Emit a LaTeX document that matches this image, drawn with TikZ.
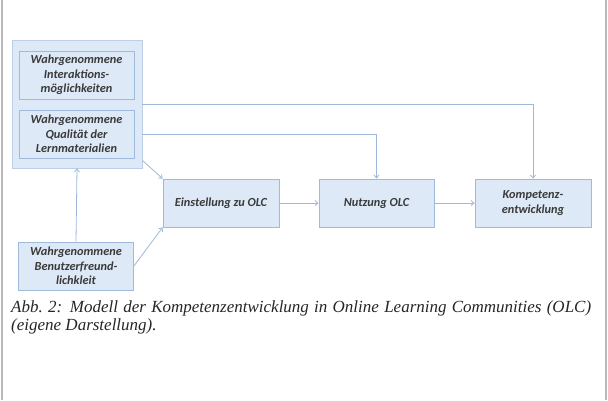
\documentclass[tikz,border=0pt]{standalone}
\usepackage{fontspec}
\newfontfamily\boxfont{Carlito}
\newfontfamily\capfont{Liberation Serif}
\usetikzlibrary{arrows.meta}
\definecolor{boxfill}{HTML}{DDE9F6}
\definecolor{boxline}{HTML}{9FBADA}
\definecolor{arrline}{HTML}{9DB8D9}
\definecolor{boxtext}{HTML}{3A3A3A}
\tikzset{
  olcbox/.style={draw=boxline, fill=boxfill, line width=0.8pt, minimum width=115pt,
    minimum height=48pt, inner sep=0pt, align=center, text=boxtext,
    font=\boxfont\bfseries\itshape\fontsize{12.3pt}{14.3pt}\selectfont},
  arr/.style={draw=arrline, line width=0.8pt, -{Straight Barb[length=3pt,width=5pt]}}
}

\begin{document}
\begin{tikzpicture}[x=1pt, y=-1pt]
    \useasboundingbox (0,0) rectangle (608,400);
    % side rules of the page
    \draw[gray!55, line width=1.2pt] (2,0) -- (2,400);
    \draw[gray!55, line width=1.2pt] (606,0) -- (606,400);
    % group of the two perceived qualities
    \node[olcbox, draw=boxline!70, minimum width=130pt, minimum height=128pt] (grp) at (77,104) {};
    \node[olcbox] (inter) at (76.5,75) {Wahrgenommene\\Interaktions-\\möglichkeiten};
    \node[olcbox] (qual) at (76.5,134) {Wahrgenommene\\Qualität der\\Lernmaterialien};
    \node[olcbox] (benutz) at (76,266) {Wahrgenommene\\Benutzerfreund-\\lichkleit};
    \node[olcbox, minimum width=116pt] (einst) at (221,203) {Einstellung zu OLC};
    \node[olcbox] (nutz) at (376.5,203) {Nutzung OLC};
    \node[olcbox, minimum width=116pt] (komp) at (533,203) {Kompetenz-\\entwicklung};
    % connectors
    \draw[arr] (grp.east) -| (komp.north);
    \draw[arr] (grp.east |- qual.east) -| (nutz.north);
    \draw[arr] ([yshift=8pt]grp.south east) -- (einst.north west);
    \draw[arr] (benutz.east) -- (einst.south west);
    \draw[arr] (benutz.north) -- (grp.south);
    \draw[arr] (einst) -- (nutz);
    \draw[arr] (nutz) -- (komp);
    % caption
    \node[anchor=base west, text width=580pt, align=justify, inner sep=0pt,
      font=\capfont\itshape\fontsize{17pt}{18.5pt}\selectfont, text=black!85] (caption) at (11,312)
      {Abb.~2: Modell der Kompetenzentwicklung in Online Learning Communities (OLC)\linebreak
       (eigene Darstellung).};
\end{tikzpicture}
\end{document}
